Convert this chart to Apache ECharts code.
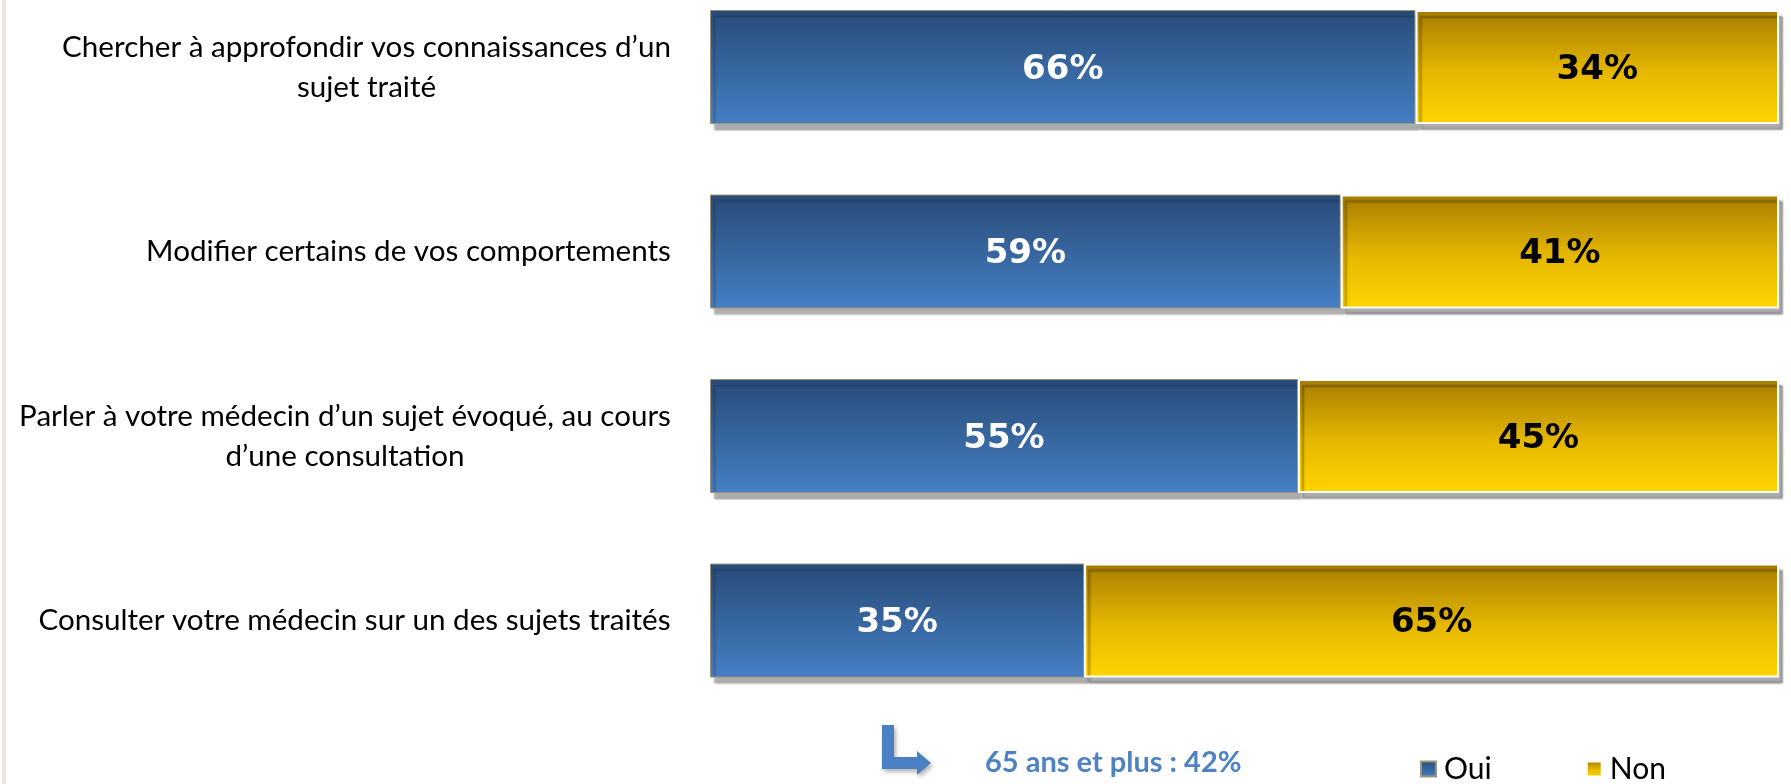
<!DOCTYPE html>
<html>
<head>
<meta charset="utf-8">
<script src="https://cdn.jsdelivr.net/npm/echarts@6/dist/echarts.min.js"></script>
<style>
html,body{margin:0;padding:0;background:#fff;}
#chart{width:1791px;height:784px;}
</style>
</head>
<body>
<div id="chart"></div>
<script>
const categories = [
  "Chercher à approfondir vos connaissances d’un\nsujet traité",
  "Modifier certains de vos comportements",
  "Parler à votre médecin d’un sujet évoqué, au cours\nd’une consultation",
  "Consulter votre médecin sur un des sujets traités"
];
const seriesNames = ["Oui", "Non"];
const ouiValues = [66, 59, 55, 35];
const nonValues = [34, 41, 45, 65];
const noteText = "65 ans et plus : 42%";

const labelFont = 'Lato';
const labelSize = 29.6;

const ctx = document.createElement('canvas').getContext('2d');
ctx.font = labelSize + 'px ' + labelFont;
const rich = {};
categories.forEach((c, i) => {
  const w = Math.max(...c.split('\n').map(l => ctx.measureText(l).width));
  rich['c' + i] = {width: Math.ceil(w) + 2, align: 'center', fontSize: labelSize, fontFamily: labelFont, color: '#000', lineHeight: 40};
});

const chart = echarts.init(document.getElementById('chart'));
const blueGrad = new echarts.graphic.LinearGradient(0, 0, 0, 1, [
  {offset: 0, color: '#284b78'}, {offset: 1, color: '#457fc4'}]);
const yellowGrad = new echarts.graphic.LinearGradient(0, 0, 0, 1, [
  {offset: 0, color: '#a67c00'}, {offset: 0.55, color: '#e6b800'}, {offset: 1, color: '#ffd500'}]);

chart.setOption({
  animation: false,
  grid: {left: 710, right: 12, top: -25.25, height: 738, containLabel: false, outerBoundsMode: 'none'},
  xAxis: {type: 'value', min: 0, max: 100, show: false},
  yAxis: {
    type: 'category', inverse: true, data: categories,
    axisLine: {show: false}, axisTick: {show: false},
    axisLabel: {
      margin: 38,
      formatter: function (value, idx) {
        return value.split('\n').map(l => '{c' + idx + '|' + l + '}').join('\n');
      },
      rich: rich
    }
  },
  legend: {
    data: seriesNames, left: 1415, top: 749, icon: 'rect',
    itemWidth: 15, itemHeight: 15, itemGap: 94,
    textStyle: {fontFamily: labelFont, fontSize: 30, color: '#000', padding: [0, 0, 0, 3]}
  },
  series: [
    {
      name: seriesNames[0], type: 'bar', stack: 'a', data: ouiValues, barWidth: 114,
      itemStyle: {color: blueGrad, borderColor: '#9c9478', borderWidth: 1,
        shadowColor: 'rgba(0,0,0,0.32)', shadowOffsetX: 4, shadowOffsetY: 6, shadowBlur: 2},
      label: {show: true, position: 'inside', formatter: '{c}%', color: '#fff', offset: [0, 3],
        fontFamily: 'DejaVu Sans', fontWeight: 'bold', fontSize: 34}
    },
    {
      name: seriesNames[1], type: 'bar', stack: 'a', data: nonValues, barWidth: 114,
      itemStyle: {color: yellowGrad, borderColor: '#ffffff', borderWidth: 2,
        shadowColor: 'rgba(0,0,0,0.32)', shadowOffsetX: 4, shadowOffsetY: 6, shadowBlur: 2},
      label: {show: true, position: 'inside', formatter: '{c}%', color: '#000', offset: [0, 3],
        fontFamily: 'DejaVu Sans', fontWeight: 'bold', fontSize: 34}
    }
  ],
  graphic: [
    {type: 'rect', left: 2, top: 0, shape: {width: 4, height: 784}, style: {fill: '#ece6e0'}},
    {type: 'polygon', shape: {points: [[882,725],[894,725],[894,757],[917,757],[917,751],[931,763],[917,775],[917,769],[882,769]]},
      style: {fill: '#4a80c4', shadowColor: 'rgba(0,0,0,0.3)', shadowBlur: 4, shadowOffsetX: 2, shadowOffsetY: 3}},
    {type: 'text', x: 985, y: 763, style: {text: noteText, fill: '#4f82c2',
      font: 'bold 29px Lato', verticalAlign: 'middle', align: 'left'}}
  ]
});
</script>
</body>
</html>
